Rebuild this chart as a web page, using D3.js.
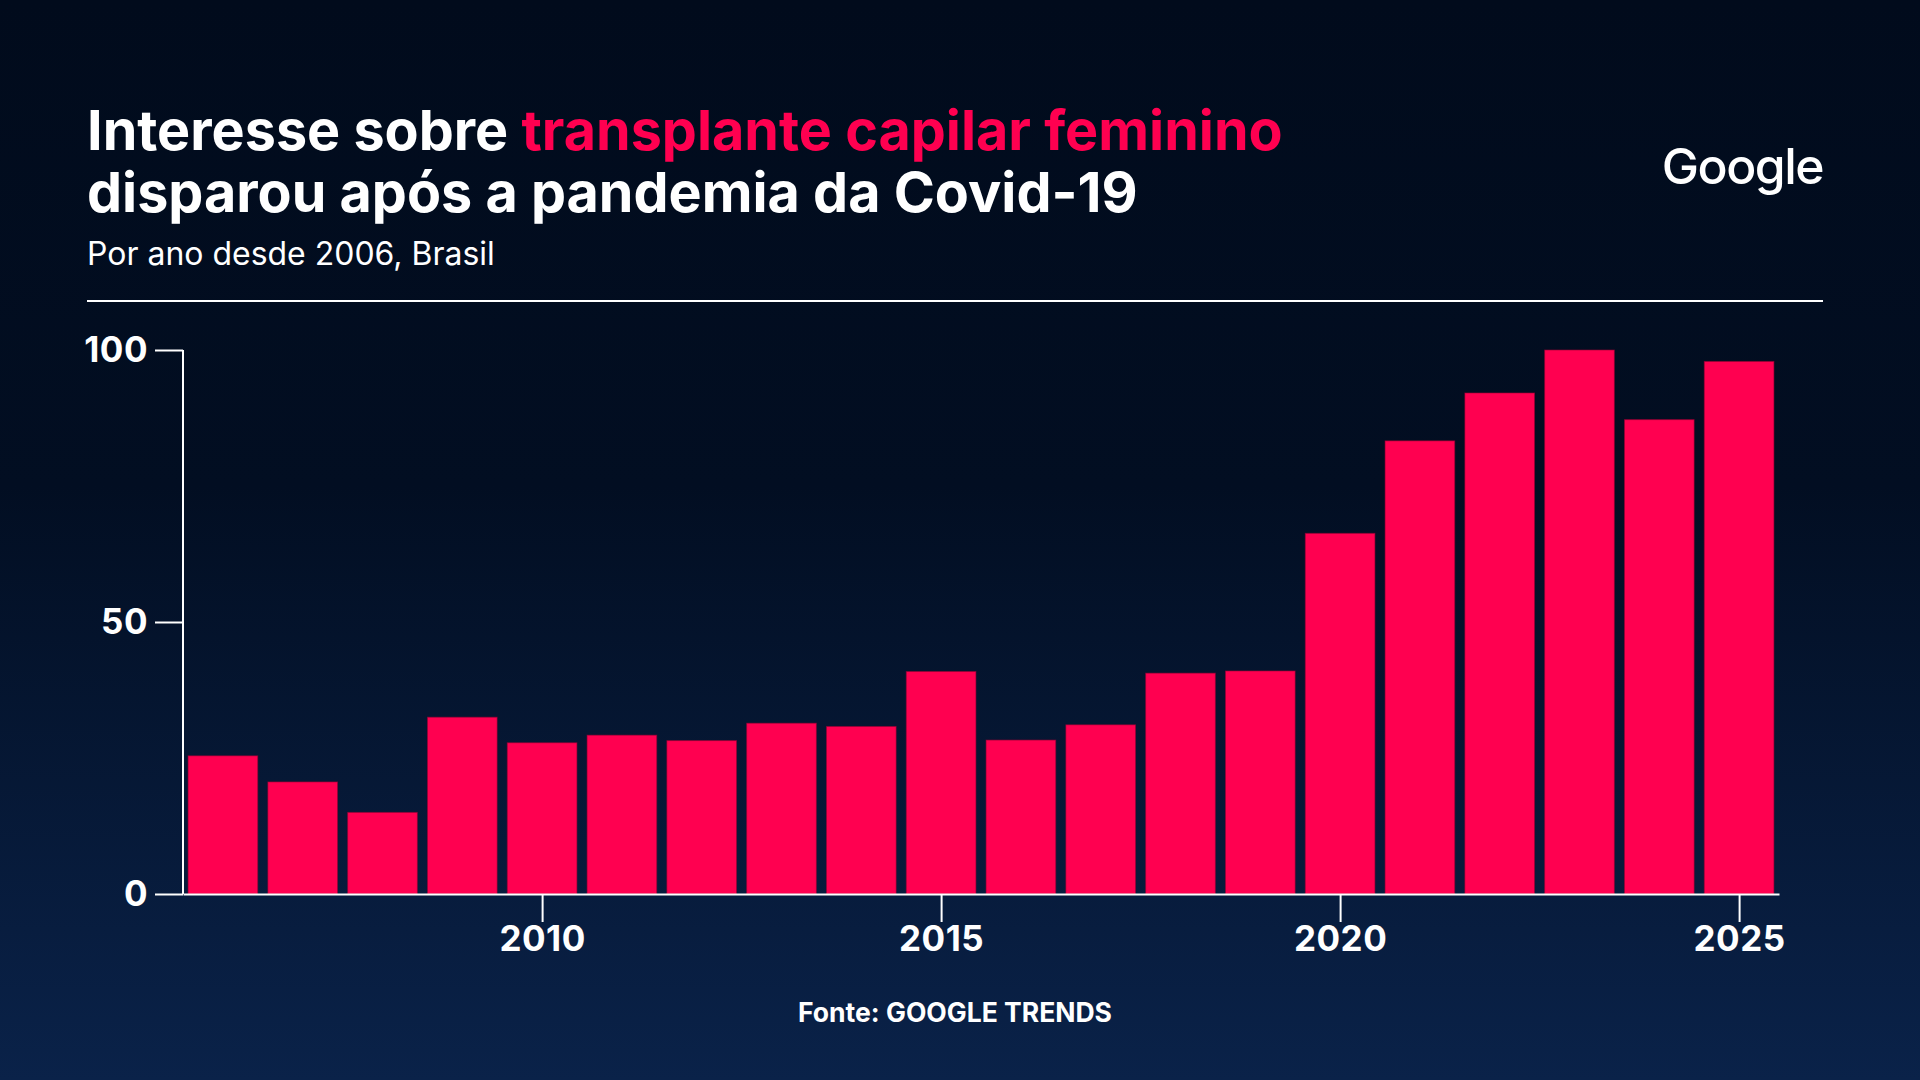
<!DOCTYPE html>
<html>
<head>
<meta charset="utf-8">
<script src="https://cdn.jsdelivr.net/npm/d3@7"></script>
<style>
    html, body { margin: 0; padding: 0; background: #010b1c; }
    svg { display: block; }
    text { font-family: Inter, "Open Sans", sans-serif; }
</style>
</head>
<body>
<svg id="chart" width="1920" height="1080"></svg>
<script>
(function() {

    var years = [2006, 2007, 2008, 2009, 2010, 2011, 2012, 2013, 2014, 2015,
                 2016, 2017, 2018, 2019, 2020, 2021, 2022, 2023, 2024, 2025];
    var values = [25.4, 20.6, 15.0, 32.5, 27.8, 29.2, 28.2, 31.4, 30.8, 40.9,
                  28.3, 31.1, 40.6, 41.0, 66.3, 83.3, 92.1, 100, 87.2, 97.9];
    var yTicks = [0, 50, 100];
    var xTicks = [2010, 2015, 2020, 2025];

    var pink = '#ff0050',
        left = 183, // y axis x
        right = 1779,
        top = 350,
        bottom = 894,
        barFrac = 0.873; // bar width as share of one year

    var svg = d3.select('#chart');

    // background gradient
    var grad = svg.append('defs').append('linearGradient')
        .attr('id', 'bg')
        .attr('x1', 0).attr('y1', 0).attr('x2', 0).attr('y2', 1);
    grad.append('stop').attr('offset', '0%').attr('stop-color', '#010b1c');
    grad.append('stop').attr('offset', '45%').attr('stop-color', '#020e22');
    grad.append('stop').attr('offset', '100%').attr('stop-color', '#0a2249');
    svg.append('rect')
        .attr('width', 1920).attr('height', 1080)
        .attr('fill', 'url(#bg)');

    function fitWidth(sel, w) {
        var cur = sel.node().getComputedTextLength();
        var fs = parseFloat(sel.attr('font-size'));
        sel.attr('font-size', fs * w / cur);
    }

    // title
    var t1 = svg.append('text')
        .attr('x', 87).attr('y', 150)
        .attr('font-size', 52).attr('font-weight', 700)
        .attr('fill', '#fff');
    t1.append('tspan').text('Interesse sobre ');
    t1.append('tspan').attr('fill', pink).text('transplante capilar feminino');
    fitWidth(t1, 1196);

    var t2 = svg.append('text')
        .attr('x', 87).attr('y', 212)
        .attr('font-size', 52).attr('font-weight', 700)
        .attr('fill', '#fff')
        .text('disparou após a pandemia da Covid-19');
    fitWidth(t2, 1051);

    var sub = svg.append('text')
        .attr('x', 87).attr('y', 265)
        .attr('font-size', 28).attr('font-weight', 400)
        .attr('fill', '#fff')
        .text('Por ano desde 2006, Brasil');
    fitWidth(sub, 408);

    var logo = svg.append('text')
        .attr('x', 1823).attr('y', 184)
        .attr('text-anchor', 'end')
        .attr('font-family', '"Open Sans", sans-serif')
        .attr('font-size', 54).attr('font-weight', 500)
        .attr('letter-spacing', -1.5)
        .attr('fill', '#fff')
        .text('Google');
    fitWidth(logo, 162);

    svg.append('line')
        .attr('x1', 87).attr('x2', 1823)
        .attr('y1', 301).attr('y2', 301)
        .attr('stroke', '#fff').attr('stroke-width', 2);

    // scales
    var x = d3.scaleLinear()
        .domain([years[0] - 0.5, years[years.length - 1] + 0.5])
        .range([left, right]);
    var y = d3.scaleLinear()
        .domain([0, 100])
        .range([bottom, top]);
    var bw = (x(1) - x(0)) * barFrac;

    // bars
    svg.append('g')
        .selectAll('rect')
        .data(years)
        .enter()
        .append('rect')
        .attr('x', function(d) { return x(d) - bw / 2; })
        .attr('y', function(d, i) { return y(values[i]); })
        .attr('width', bw)
        .attr('height', function(d, i) { return bottom - y(values[i]); })
        .attr('fill', pink)
        .attr('stroke', 'rgba(150,0,50,0.6)')
        .attr('stroke-width', 1);

    // axes
    var yAxis = svg.append('g')
        .attr('transform', 'translate(' + left + ',0)')
        .call(d3.axisLeft(y)
            .tickValues(yTicks)
            .tickSize(28)
            .tickPadding(7)
            .tickFormat(d3.format('d')));

    var xAxis = svg.append('g')
        .attr('transform', 'translate(0,' + bottom + ')')
        .call(d3.axisBottom(x)
            .tickValues(xTicks)
            .tickSize(28)
            .tickSizeOuter(0)
            .tickFormat(d3.format('d')));

    [yAxis, xAxis].forEach(function(ax) {
        ax.select('.domain').attr('stroke', '#fff').attr('stroke-width', 2);
        ax.selectAll('.tick line').attr('stroke', '#fff').attr('stroke-width', 2);
        ax.selectAll('.tick text')
            .attr('fill', '#fff')
            .attr('font-family', 'Inter, sans-serif')
            .attr('font-size', 35)
            .attr('font-weight', 700)
            .attr('letter-spacing', 0.5);
    });
    yAxis.select('.domain').attr('d', 'M0,' + top + 'V' + bottom);
    xAxis.selectAll('.tick text').attr('dy', null).attr('y', 57);

    // source
    var src = svg.append('text')
        .attr('x', 955).attr('y', 1022)
        .attr('text-anchor', 'middle')
        .attr('font-size', 25).attr('font-weight', 700)
        .attr('fill', '#fff')
        .text('Fonte: GOOGLE TRENDS');
    fitWidth(src, 314);

})();
</script>
</body>
</html>
